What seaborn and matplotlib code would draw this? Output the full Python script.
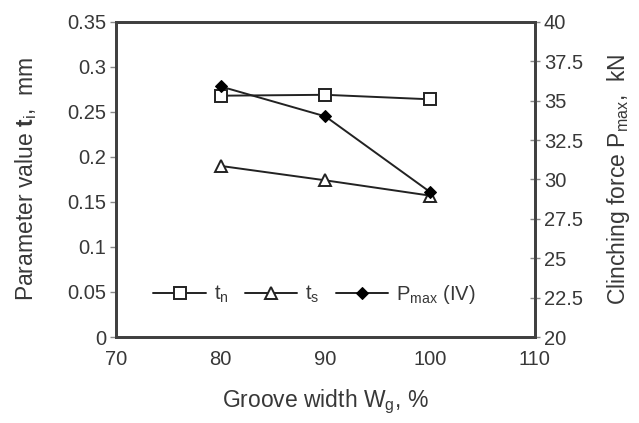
import matplotlib
matplotlib.use("Agg")
import matplotlib.pyplot as plt
import seaborn as sns
import pandas as pd

groove_width = [80, 90, 100]
t_n = [0.268, 0.269, 0.264]
t_s = [0.190, 0.174, 0.157]
p_max = [35.9, 34.0, 29.2]

sns.set_style("white")
plt.rcParams["font.family"] = ["Liberation Sans", "DejaVu Sans"]
plt.rcParams["mathtext.fontset"] = "custom"
plt.rcParams["mathtext.rm"] = "Liberation Sans"
plt.rcParams["mathtext.it"] = "Liberation Sans"
plt.rcParams["mathtext.bf"] = "Liberation Sans:bold"

txt = "#383838"
edge = "#404040"

df = pd.DataFrame({"w": groove_width, "tn": t_n, "ts": t_s, "p": p_max})

fig = plt.figure(figsize=(6.39, 4.23), dpi=100)
ax = fig.add_axes([0.1815, 0.2033, 0.6555, 0.745])
ax2 = ax.twinx()

sns.lineplot(data=df, x="w", y="tn", ax=ax, color="#222222", lw=1.4,
             marker="s", markersize=8, markerfacecolor="white",
             markeredgecolor="#222222", markeredgewidth=1.4, label="t$_{\\rm n}$")
sns.lineplot(data=df, x="w", y="ts", ax=ax, color="#222222", lw=1.4,
             marker="^", markersize=8.5, markerfacecolor="white",
             markeredgecolor="#222222", markeredgewidth=1.4, label="t$_{\\rm s}$")
sns.lineplot(data=df, x="w", y="p", ax=ax2, color="#222222", lw=1.4,
             marker="D", markersize=6.5, markerfacecolor="black",
             markeredgecolor="black", label="P$_{\\rm max}$ (IV)")

ax.set_xlim(70, 110)
ax.set_ylim(0, 0.35)
ax2.set_ylim(20, 40)
ax.set_xticks([70, 80, 90, 100, 110])
ax.set_yticks([0, 0.05, 0.1, 0.15, 0.2, 0.25, 0.3, 0.35])
ax.set_yticklabels(["0", "0.05", "0.1", "0.15", "0.2", "0.25", "0.3", "0.35"])
ax2.set_yticks([20, 22.5, 25, 27.5, 30, 32.5, 35, 37.5, 40])
ax2.set_yticklabels(["20", "22.5", "25", "27.5", "30", "32.5", "35", "37.5", "40"])

for a in (ax, ax2):
    for s in a.spines.values():
        s.set_color(edge)
        s.set_linewidth(2)
ax.tick_params(axis="both", direction="out", length=4, width=1, color="#888888",
               labelsize=14.5, labelcolor=txt, pad=3)
ax.tick_params(axis="x", pad=5)
ax2.tick_params(axis="y", direction="inout", length=7, width=1, color="#888888",
                labelsize=14.5, labelcolor=txt, pad=3)

ax.set_xlabel("Groove width W$_{\\rm g}$, %", fontsize=16.5, color=txt, labelpad=14)
ax.set_ylabel("Parameter value $\\mathbf{t}_{\\rm i}$,  mm", fontsize=16.5, color=txt, labelpad=20)
ax2.set_ylabel("Clinching force P$_{\\rm max}$,  kN", fontsize=16.5, color=txt, labelpad=16)

h1, l1 = ax.get_legend_handles_labels()
h2, l2 = ax2.get_legend_handles_labels()
ax.get_legend().remove()
ax2.get_legend().remove()
ax.legend(h1 + h2, l1 + l2, ncol=3, frameon=False, loc="center left",
          bbox_to_anchor=(0.07, 0.135), fontsize=14.5, handlelength=2.6,
          columnspacing=0.8, handletextpad=0.4, labelcolor=txt,
          borderaxespad=0.0)

fig.savefig("out.png", dpi=100)
plt.close(fig)
